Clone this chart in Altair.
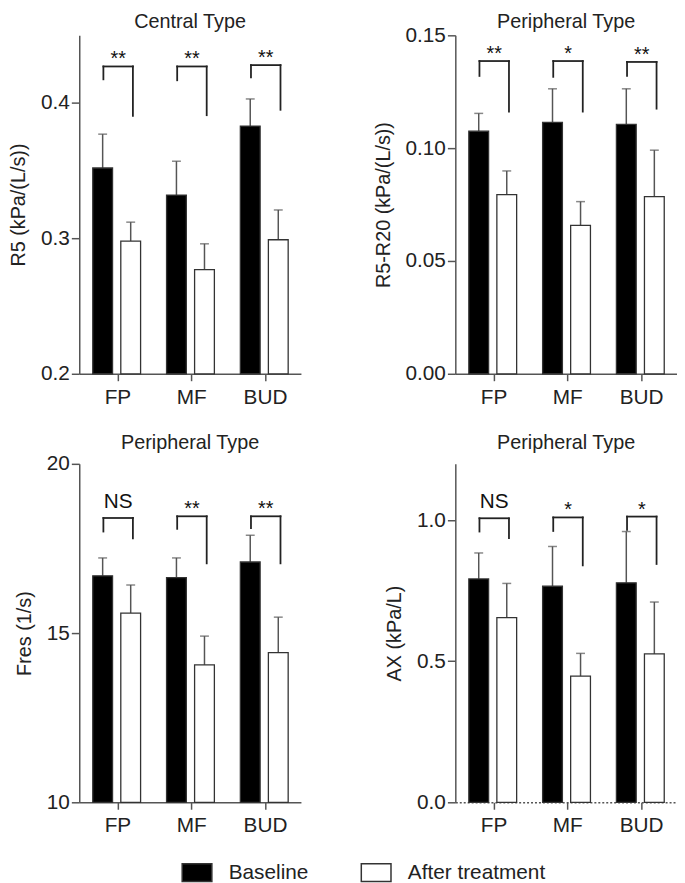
import json
import altair as alt
import pandas as pd

categories = ["FP", "MF", "BUD"]
groups = ["Baseline", "After treatment"]

# Panel A: R5 (Central Type)
r5_base = [0.352, 0.332, 0.383]
r5_base_sem = [0.025, 0.025, 0.020]
r5_after = [0.298, 0.277, 0.299]
r5_after_sem = [0.014, 0.019, 0.022]
r5_sig = ["**", "**", "**"]
r5_br_top = [0.427, 0.427, 0.428]
r5_br_left = [0.4175, 0.4168, 0.419]
r5_br_right = [0.3905, 0.391, 0.395]

# Panel B: R5-R20 (Peripheral Type)
rr_base = [0.1075, 0.1114, 0.1105]
rr_base_sem = [0.0079, 0.0149, 0.0158]
rr_after = [0.0794, 0.0658, 0.0785]
rr_after_sem = [0.0105, 0.0105, 0.0206]
rr_sig = ["**", "*", "**"]
rr_br_top = [0.1386, 0.1386, 0.1382]
rr_br_left = [0.132, 0.1316, 0.132]
rr_br_right = [0.1162, 0.1162, 0.1175]

# Panel C: Fres (Peripheral Type)
fr_base = [16.69, 16.64, 17.10]
fr_base_sem = [0.53, 0.58, 0.79]
fr_after = [15.59, 14.06, 14.42]
fr_after_sem = [0.83, 0.85, 1.05]
fr_sig = ["NS", "**", "**"]
fr_br_top = [18.40, 18.45, 18.45]
fr_br_left = [18.00, 18.08, 18.10]
fr_br_right = [17.80, 17.06, 17.06]

# Panel D: AX (Peripheral Type)
ax_base = [0.792, 0.766, 0.778]
ax_base_sem = [0.092, 0.141, 0.182]
ax_after = [0.655, 0.447, 0.526]
ax_after_sem = [0.121, 0.081, 0.184]
ax_sig = ["NS", "*", "*"]
ax_br_top = [1.007, 1.010, 1.013]
ax_br_left = [0.960, 0.962, 0.966]
ax_br_right = [0.937, 0.840, 0.845]

BASE_OFF = -0.20
AFTER_OFF = 0.18
W, H = 224, 342
FONT = "Liberation Sans"

label_expr = json.dumps(categories) + "[datum.value]"

legend = alt.Legend(
    title=None, orient="none", legendX=103, legendY=830, direction="horizontal",
    symbolType="M-1,-0.6L1,-0.6L1,0.6L-1,0.6Z", symbolSize=900,
    symbolStrokeColor="#333", symbolStrokeWidth=1.5,
    labelFontSize=21, labelOffset=16, columnPadding=50, labelColor="#222",
    labelFont=FONT,
)


def panel(title, title_offset, ytitle, domain, ticks, fmt, base, base_sem, after, after_sem,
          sig, btop, bleft, bright, dotted=False):
    rows = []
    for i in range(len(categories)):
        rows.append(dict(idx=i, group=groups[0], off=BASE_OFF, mean=base[i], sem=base_sem[i]))
        rows.append(dict(idx=i, group=groups[1], off=AFTER_OFF, mean=after[i], sem=after_sem[i]))
    bars = pd.DataFrame(rows)
    br = pd.DataFrame(dict(idx=list(range(len(categories))), top=btop, lb=bleft, rb=bright, sig=sig))

    xs = alt.Scale(domain=[-0.45, 2.42], nice=False, zero=False)
    ys = alt.Scale(domain=domain, nice=False, zero=False)
    xprops = dict(values=[0, 1, 2], labelExpr=label_expr, title=None, grid=False,
                  labelPadding=6, tickSize=7)
    if dotted:
        xprops["domainDash"] = [2, 2]
    xaxis = alt.Axis(**xprops)
    yaxis = alt.Axis(values=ticks, format=fmt, title=ytitle, grid=False)

    def X(f):
        return alt.X(f, type="quantitative", scale=xs, axis=xaxis)

    def Y(f):
        return alt.Y(f, type="quantitative", scale=ys, axis=yaxis)

    bc = alt.Chart(bars).transform_calculate(
        x="datum.idx + datum.off", hi="datum.mean + datum.sem")
    err = bc.mark_rule(color="#555", strokeWidth=1.5).encode(
        x=X("x"), y=Y("mean"), y2="hi:Q")
    cap = bc.mark_tick(orient="horizontal", size=9, thickness=1.5, color="#555").encode(
        x=X("x"), y=Y("hi"))
    bar = bc.mark_bar(size=20, orient="vertical", stroke="#333", strokeWidth=1.3).encode(
        x=X("x"), y=Y("mean"), y2=alt.datum(domain[0]),
        fill=alt.Fill("group:N", scale=alt.Scale(domain=groups, range=["#000000", "#ffffff"]),
                      legend=legend, sort=groups),
    )

    bk = alt.Chart(br).transform_calculate(
        xl="datum.idx - 0.19", xr="datum.idx + 0.21", xm="datum.idx + 0.01")
    rule_style = dict(color="#222", strokeWidth=1.8, strokeCap="square")
    left = bk.mark_rule(**rule_style).encode(x=X("xl"), y=Y("lb"), y2="top:Q")
    right = bk.mark_rule(**rule_style).encode(x=X("xr"), y=Y("rb"), y2="top:Q")
    horiz = bk.mark_rule(**rule_style).encode(x=X("xl"), x2="xr:Q", y=Y("top"))
    stars = bk.transform_filter("datum.sig != 'NS'").mark_text(
        baseline="bottom", dy=3, fontSize=20, color="#111", font=FONT).encode(
        x=X("xm"), y=Y("top"), text="sig:N")
    ns = bk.transform_filter("datum.sig == 'NS'").mark_text(
        baseline="bottom", dy=-6, fontSize=21, color="#111", font=FONT).encode(
        x=X("xm"), y=Y("top"), text="sig:N")

    return alt.layer(err, cap, bar, left, right, horiz, stars, ns).properties(
        width=W, height=H, title=alt.TitleParams(text=title, offset=title_offset))


p1 = panel("Central Type", 3, "R5 (kPa/(L/s))", [0.2, 0.45], [0.2, 0.3, 0.4], ".1f",
           r5_base, r5_base_sem, r5_after, r5_after_sem, r5_sig, r5_br_top, r5_br_left, r5_br_right)
p2 = panel("Peripheral Type", -8, "R5-R20 (kPa/(L/s))", [0, 0.15], [0, 0.05, 0.10, 0.15], ".2f",
           rr_base, rr_base_sem, rr_after, rr_after_sem, rr_sig, rr_br_top, rr_br_left, rr_br_right)
p3 = panel("Peripheral Type", 0, "Fres (1/s)", [10, 20], [10, 15, 20], "d",
           fr_base, fr_base_sem, fr_after, fr_after_sem, fr_sig, fr_br_top, fr_br_left, fr_br_right)
p4 = panel("Peripheral Type", 11, "AX (kPa/L)", [0, 1.2], [0, 0.5, 1.0], ".1f",
           ax_base, ax_base_sem, ax_after, ax_after_sem, ax_sig, ax_br_top, ax_br_left, ax_br_right,
           dotted=True)

chart = alt.concat(
    p1, p2, p3, p4, columns=2, spacing={"row": 91, "column": 156}, bounds="flush",
    padding=0,
).configure(font=FONT).configure_view(stroke=None).configure_axis(
    labelFontSize=21, titleFontSize=20, titleFontWeight="normal", labelColor="#222",
    titleColor="#222", domainColor="#555", tickColor="#555", domainWidth=1.5, tickWidth=1.5,
    tickSize=8, labelPadding=2, titlePadding=12, labelFont=FONT, titleFont=FONT,
).configure_title(
    fontSize=20, fontWeight="normal", color="#222", frame="group", anchor="middle",
    font=FONT,
)

chart.save("out.html", embed_options={"renderer": "svg", "actions": False})
